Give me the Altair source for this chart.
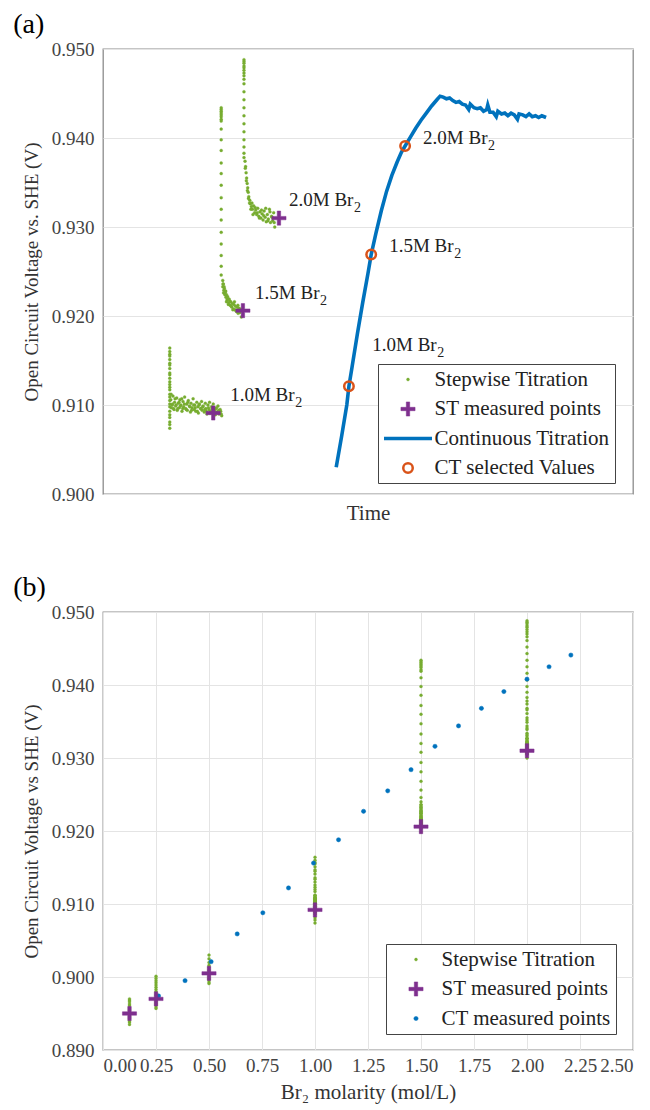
import altair as alt
import pandas as pd

FONT = "Liberation Serif"
GREEN, PURPLE, BLUE, ORANGE = "#77AC30", "#7E2F8E", "#0072BD", "#D95319"
PLUS = "M-1,-0.24H-0.24V-1H0.24V-0.24H1V0.24H0.24V1H-0.24V0.24H-1Z"

# ---------------- panel (a): time axis in arbitrary units (0-100) ----------------
c1_spike_t = 12.6
c1_spike_y = [0.9164, 0.9160, 0.9157, 0.9155, 0.9151, 0.9147, 0.9145, 0.9141, 0.9136, 0.9134,
              0.9130, 0.9126, 0.9123, 0.9120, 0.9117, 0.9112, 0.9109, 0.9105, 0.9101, 0.9098,
              0.9093, 0.9089, 0.9086, 0.9081, 0.9078, 0.9074]
c1_cloud_t = [12.8, 12.9, 13.1, 13.2, 13.4, 13.5, 13.7, 13.9, 14.0, 14.2,
              14.4, 14.5, 14.7, 14.9, 15.1, 15.2, 15.4, 15.6, 15.8, 15.9,
              16.1, 16.3, 16.5, 16.6, 16.8, 17.0, 17.2, 17.3, 17.5, 17.7,
              17.9, 18.0, 18.2, 18.4, 18.6, 18.7, 18.9, 19.1, 19.3, 19.4,
              19.6, 19.8, 20.0, 20.1, 20.3, 20.5, 20.7, 20.8, 21.0, 21.2,
              21.4, 21.5, 21.7, 21.9, 22.1, 22.2, 22.4,
              12.85, 13.05, 13.3, 13.6, 13.8, 14.1, 14.35, 14.6, 14.85, 15.05,
              15.35, 15.7, 16.0, 16.4, 16.7, 17.1, 17.4, 17.8, 18.1, 18.5,
              18.8, 19.2, 19.5, 19.9, 20.2, 20.6, 20.95, 21.3, 21.8, 22.3]
c1_cloud_v = [0.9106, 0.9097, 0.9101, 0.9110, 0.9095, 0.9103, 0.9099, 0.9108, 0.9094, 0.9102,
              0.9097, 0.9106, 0.9100, 0.9093, 0.9104, 0.9098, 0.9109, 0.9096, 0.9101, 0.9094,
              0.9105, 0.9099, 0.9092, 0.9102, 0.9097, 0.9107, 0.9095, 0.9100, 0.9093, 0.9103,
              0.9098, 0.9091, 0.9101, 0.9096, 0.9104, 0.9094, 0.9099, 0.9092, 0.9102, 0.9096,
              0.9090, 0.9100, 0.9095, 0.9103, 0.9093, 0.9098, 0.9091, 0.9101, 0.9094, 0.9089,
              0.9097, 0.9092, 0.9099, 0.9090, 0.9095, 0.9093, 0.9088,
              0.9112, 0.9100, 0.9096, 0.9107, 0.9100, 0.9096, 0.9103, 0.9099, 0.9107, 0.9096,
              0.9101, 0.9095, 0.9103, 0.9098, 0.9094, 0.9100, 0.9097, 0.9093, 0.9100, 0.9096,
              0.9098, 0.9095, 0.9093, 0.9097, 0.9091, 0.9096, 0.9092, 0.9096, 0.9094, 0.9090]

c2_spike_t = 22.3
c2_spike_y = [0.9434, 0.9432, 0.9430, 0.9428, 0.9426, 0.9424, 0.9421, 0.9419, 0.9410, 0.9398,
              0.9386, 0.9372, 0.9360, 0.9347, 0.9333, 0.9320, 0.9308, 0.9294, 0.9281, 0.9268,
              0.9256, 0.9246]
c2_cloud_t = [22.6, 22.6, 22.7, 22.8, 22.9, 23.0, 23.1, 23.2, 23.3, 23.4,
              23.5, 23.7, 23.8, 24.0, 24.1, 24.3, 24.4, 24.6, 24.7, 24.9,
              25.0, 25.2, 25.3, 25.5, 25.6, 25.8, 25.9, 26.1,
              22.65, 22.75, 22.85, 23.0, 23.15, 23.3, 23.5, 23.65, 23.9, 24.2,
              24.5, 24.8, 25.1, 25.45]
c2_cloud_v = [0.9240, 0.9233, 0.9236, 0.9229, 0.9231, 0.9225, 0.9227, 0.9221, 0.9224, 0.9218,
              0.9220, 0.9215, 0.9219, 0.9212, 0.9216, 0.9210, 0.9214, 0.9208, 0.9213, 0.9207,
              0.9211, 0.9205, 0.9210, 0.9203, 0.9209, 0.9204, 0.9208, 0.9199,
              0.9236, 0.9226, 0.9233, 0.9224, 0.9228, 0.9216, 0.9222, 0.9213, 0.9217, 0.9211,
              0.9207, 0.9216, 0.9206, 0.9212]

c3_spike_t = 26.6
c3_spike_y = [0.9488, 0.9486, 0.9484, 0.9481, 0.9479, 0.9476, 0.9473, 0.9470, 0.9466, 0.9461,
              0.9452, 0.9443, 0.9434, 0.9425, 0.9416, 0.9407, 0.9398, 0.9390, 0.9383, 0.9378]
c3_cloud_t = [26.8, 26.9, 27.0, 27.1, 27.2, 27.3, 27.4, 27.5, 27.7, 27.8,
              28.0, 28.2, 28.4, 28.6, 28.8, 29.0, 29.2, 29.4, 29.6, 29.8,
              30.0, 30.2, 30.4, 30.6, 30.8, 31.0, 31.2, 31.4, 31.6, 31.8,
              32.0, 32.2, 32.4,
              26.85, 27.05, 27.25, 27.45, 27.65, 27.9, 28.1, 28.3, 28.7, 29.1,
              29.5, 29.9, 30.3, 30.7, 31.1, 31.5, 31.9, 32.3]
c3_cloud_v = [0.9374, 0.9368, 0.9361, 0.9355, 0.9349, 0.9344, 0.9339, 0.9334, 0.9330, 0.9326,
              0.9323, 0.9320, 0.9324, 0.9316, 0.9319, 0.9314, 0.9321, 0.9312, 0.9317, 0.9310,
              0.9315, 0.9308, 0.9318, 0.9311, 0.9306, 0.9314, 0.9309, 0.9320, 0.9305, 0.9312,
              0.9307, 0.9316, 0.9300,
              0.9366, 0.9352, 0.9341, 0.9332, 0.9327, 0.9320, 0.9327, 0.9314, 0.9322, 0.9316,
              0.9310, 0.9319, 0.9313, 0.9321, 0.9307, 0.9317, 0.9311, 0.9305]

st_a_t = [20.8, 26.4, 33.2]
st_a_v = [0.9091, 0.9206, 0.9310]

ct_t = [44.0, 45.0, 46.0, 46.4, 47.0, 48.0, 49.0, 50.0, 50.6, 51.5,
        52.5, 53.5, 54.5, 55.5, 56.3, 57.0, 58.0, 59.0, 60.0, 61.0,
        62.0, 63.0, 63.6, 64.2, 64.8, 65.4, 66.0, 66.6, 67.2, 67.8,
        68.4, 69.0, 69.3, 70.0, 70.6, 71.2, 71.8, 72.4, 72.6, 73.0,
        73.6, 74.2, 74.5, 75.2, 75.8, 76.4, 77.0, 77.6, 78.2, 78.5,
        79.2, 79.8, 80.4, 81.0, 81.6, 82.2, 82.8, 83.6]
ct_v = [0.9030, 0.9064, 0.9100, 0.9121, 0.9143, 0.9180, 0.9215, 0.9248, 0.9269, 0.9293,
        0.9318, 0.9340, 0.9358, 0.9373, 0.9384, 0.9391, 0.9401, 0.9411, 0.9420, 0.9428,
        0.9436, 0.9443, 0.9447, 0.9446, 0.9444, 0.9445, 0.9442, 0.9440, 0.9441, 0.9438,
        0.9437, 0.9432, 0.9438, 0.9434, 0.9433, 0.9434, 0.9430, 0.9432, 0.9437, 0.9429,
        0.9429, 0.9424, 0.9430, 0.9427, 0.9428, 0.9425, 0.9428, 0.9426, 0.9421, 0.9427,
        0.9426, 0.9424, 0.9427, 0.9424, 0.9425, 0.9423, 0.9425, 0.9423]

ctsel_t = [46.4, 50.6, 57.0]
ctsel_v = [0.9121, 0.9269, 0.9391]

lab_text = ["1.0M Br", "1.5M Br", "2.0M Br", "1.0M Br", "1.5M Br", "2.0M Br"]
lab_t = [24.0, 28.7, 35.1, 50.8, 54.0, 60.4]
lab_v = [0.9111, 0.9226, 0.9330, 0.9167, 0.9279, 0.9400]

# ---------------- panel (b): Br2 molarity ----------------
st_b_x = [0.125, 0.25, 0.5, 1.0, 1.5, 2.0]
st_b_v = [0.8950, 0.8970, 0.9005, 0.9092, 0.9206, 0.9310]
sw_0125 = [0.8935, 0.8938, 0.8940, 0.8943, 0.8945, 0.8947, 0.8949, 0.8950, 0.8952, 0.8954,
           0.8956, 0.8958, 0.8961, 0.8963, 0.8966, 0.8968, 0.8970]
sw_025 = [0.8957, 0.8959, 0.8962, 0.8964, 0.8966, 0.8968, 0.8970, 0.8972, 0.8975, 0.8977,
          0.8980, 0.8983, 0.8986, 0.8989, 0.8992, 0.8995, 0.8998, 0.9001]
sw_05 = [0.8991, 0.8993, 0.8996, 0.8998, 0.9000, 0.9003, 0.9005, 0.9008, 0.9010, 0.9013,
         0.9016, 0.9020, 0.9025, 0.9030]
ct_b_x = [0.262, 0.387, 0.51, 0.633, 0.754, 0.875, 0.993, 1.111, 1.229, 1.343,
          1.453, 1.566, 1.677, 1.785, 1.891, 2.0, 2.104, 2.207]
ct_b_v = [0.8974, 0.8995, 0.9021, 0.9059, 0.9088, 0.9122, 0.9156, 0.9188, 0.9227, 0.9255,
          0.9284, 0.9316, 0.9344, 0.9368, 0.9391, 0.9408, 0.9425, 0.9441]

SA = ["Stepwise Titration", "ST measured points", "Continuous Titration", "CT selected Values"]
SB = ["Stepwise Titration", "ST measured points", "CT measured points"]


def pts(ts, vs, s):
    return [{"t": t, "v": v, "s": s} for t, v in zip(ts, vs)]


green_a = (pts([c1_spike_t] * len(c1_spike_y), c1_spike_y, SA[0]) + pts(c1_cloud_t, c1_cloud_v, SA[0])
           + pts([c2_spike_t] * len(c2_spike_y), c2_spike_y, SA[0]) + pts(c2_cloud_t, c2_cloud_v, SA[0])
           + pts([c3_spike_t] * len(c3_spike_y), c3_spike_y, SA[0]) + pts(c3_cloud_t, c3_cloud_v, SA[0]))
df_green_a = pd.DataFrame(green_a)
df_st_a = pd.DataFrame(pts(st_a_t, st_a_v, SA[1]))
df_ct = pd.DataFrame(pts(ct_t, ct_v, SA[2]))
df_sel = pd.DataFrame(pts(ctsel_t, ctsel_v, SA[3]))
df_lab = pd.DataFrame({"t": lab_t, "v": lab_v, "label": lab_text, "sub": ["2"] * len(lab_text)})

c1_all = c1_spike_y + c1_cloud_v
c2_all = c2_spike_y + c2_cloud_v
c3_all = c3_spike_y + c3_cloud_v
green_b = (pts([0.125] * len(sw_0125), sw_0125, SB[0]) + pts([0.25] * len(sw_025), sw_025, SB[0])
           + pts([0.5] * len(sw_05), sw_05, SB[0]) + pts([1.0] * len(c1_all), c1_all, SB[0])
           + pts([1.5] * len(c2_all), c2_all, SB[0]) + pts([2.0] * len(c3_all), c3_all, SB[0]))
df_green_b = pd.DataFrame(green_b)
df_st_b = pd.DataFrame(pts(st_b_x, st_b_v, SB[1]))
df_ct_b = pd.DataFrame(pts(ct_b_x, ct_b_v, SB[2]))

size_expr_a = ("datum.value == 'Stepwise Titration' ? 8 : datum.value == 'ST measured points' ? 200 : "
               "datum.value == 'Continuous Titration' ? 2304 : 90")
sw_expr_a = ("datum.value == 'Continuous Titration' ? 3.5 : datum.value == 'CT selected Values' ? 2.5 : 0.5")
size_expr_b = ("datum.value == 'Stepwise Titration' ? 8 : datum.value == 'ST measured points' ? 200 : 18")

leg_common = dict(title=None, orient="none", strokeColor="#444", fillColor="white",
                  labelFont=FONT, labelFontSize=21, labelColor="#222", labelLimit=400,
                  rowPadding=7.5, cornerRadius=0, padding=5)
leg_a = alt.Legend(legendX=275, legendY=315, symbolOffset=14.5, labelOffset=16,
                   symbolSize=alt.ExprRef(expr=size_expr_a),
                   symbolStrokeWidth=alt.ExprRef(expr=sw_expr_a),
                   **leg_common)
leg_b = alt.Legend(legendX=283, legendY=332, symbolOffset=14.5, labelOffset=15,
                   symbolSize=alt.ExprRef(expr=size_expr_b), symbolStrokeWidth=0.5,
                   **leg_common)


def style_enc(domain, shapes, fills, strokes, leg):
    return dict(
        shape=alt.Shape("s:N", scale=alt.Scale(domain=domain, range=shapes), legend=leg),
        fill=alt.Fill("s:N", scale=alt.Scale(domain=domain, range=fills), legend=leg),
        stroke=alt.Stroke("s:N", scale=alt.Scale(domain=domain, range=strokes), legend=leg),
    )


enc_a = style_enc(SA, ["circle", PLUS, "stroke", "circle"],
                  [GREEN, PURPLE, "transparent", "transparent"],
                  [GREEN, PURPLE, BLUE, ORANGE], leg_a)
enc_b = style_enc(SB, ["circle", PLUS, "circle"], [GREEN, PURPLE, BLUE], [GREEN, PURPLE, BLUE], leg_b)

# ---------------- panel (a) chart ----------------
xa = alt.X("t:Q", scale=alt.Scale(domain=[0, 100], nice=False),
           axis=alt.Axis(labels=False, ticks=False, grid=False, domain=False, title="Time",
                         titlePadding=8, titleFontSize=21))
ya = alt.Y("v:Q", scale=alt.Scale(domain=[0.900, 0.950], nice=False),
           axis=alt.Axis(values=[0.90, 0.91, 0.92, 0.93, 0.94, 0.95], format=".3f",
                         title="Open Circuit Voltage vs. SHE (V)", ticks=False, domain=False,
                         labelPadding=9, titlePadding=10, titleFontSize=19))

line_a = alt.Chart(df_ct).mark_line(color=BLUE, strokeWidth=3.6).encode(x=xa, y=ya, order="t:Q")
green_l = alt.Chart(df_green_a).mark_point(filled=True, size=9, strokeWidth=0.3, opacity=1).encode(
    x=xa, y=ya, **enc_a)
st_l = alt.Chart(df_st_a).mark_point(filled=True, size=200, strokeWidth=0.5, opacity=1).encode(
    x=xa, y=ya, **enc_a)
sel_l = alt.Chart(df_sel).mark_point(filled=True, size=90, strokeWidth=2.5, opacity=1).encode(
    x=xa, y=ya, **enc_a)
txt = alt.Chart(df_lab).mark_text(align="left", baseline="middle", font=FONT, fontSize=19,
                                  color="#222").encode(x=xa, y=ya, text="label:N")
sub = alt.Chart(df_lab).mark_text(align="left", baseline="middle", font=FONT, fontSize=14,
                                  color="#222", dx=65, dy=8).encode(x=xa, y=ya, text="sub:N")

top = alt.layer(green_l, line_a, st_l, sel_l, txt, sub).properties(
    width=530, height=445,
    title=alt.TitleParams("(a)", anchor="start", frame="bounds", fontSize=28, font=FONT,
                          fontWeight="normal", color="black", dx=-9, offset=1))

# ---------------- panel (b) chart ----------------
xb = alt.X("t:Q", scale=alt.Scale(domain=[0, 2.5], nice=False),
           axis=alt.Axis(values=[0, 0.25, 0.5, 0.75, 1.0, 1.25, 1.5, 1.75, 2.0, 2.25, 2.5], format=".2f",
                         title="Br₂ molarity (mol/L)", ticks=False, domain=False,
                         labelPadding=6, titlePadding=6, titleFontSize=21))
yb = alt.Y("v:Q", scale=alt.Scale(domain=[0.890, 0.950], nice=False),
           axis=alt.Axis(values=[0.89, 0.90, 0.91, 0.92, 0.93, 0.94, 0.95], format=".3f",
                         title="Open Circuit Voltage vs SHE (V)", ticks=False, domain=False,
                         labelPadding=9, titlePadding=10, titleFontSize=19))

green_bl = alt.Chart(df_green_b).mark_point(filled=True, size=9, strokeWidth=0.3, opacity=1).encode(
    x=xb, y=yb, **enc_b)
ct_bl = alt.Chart(df_ct_b).mark_point(filled=True, size=18, strokeWidth=0.5, opacity=1).encode(
    x=xb, y=yb, **enc_b)
st_bl = alt.Chart(df_st_b).mark_point(filled=True, size=200, strokeWidth=0.5, opacity=1).encode(
    x=xb, y=yb, **enc_b)

bottom = alt.layer(green_bl, ct_bl, st_bl).properties(
    width=530, height=438,
    title=alt.TitleParams("(b)", anchor="start", frame="bounds", fontSize=28, font=FONT,
                          fontWeight="normal", color="black", dx=-9, offset=1))

chart = alt.vconcat(top, bottom, spacing=49).resolve_scale(
    x="independent", y="independent", shape="independent", fill="independent", stroke="independent"
).resolve_legend(shape="independent", fill="independent", stroke="independent").configure_view(
    stroke="#8c8c8c", strokeWidth=1.3
).configure_axis(
    gridColor="#e4e4e4", gridWidth=1, labelFont=FONT, labelFontSize=19, labelColor="#444",
    titleFont=FONT, titleFontWeight="normal", titleColor="#333"
).configure_title(font=FONT).properties(
    padding={"left": 12, "top": 10, "right": 10, "bottom": 5}, background="white")

chart.save("out.html", embed_options={"renderer": "svg", "actions": False})
